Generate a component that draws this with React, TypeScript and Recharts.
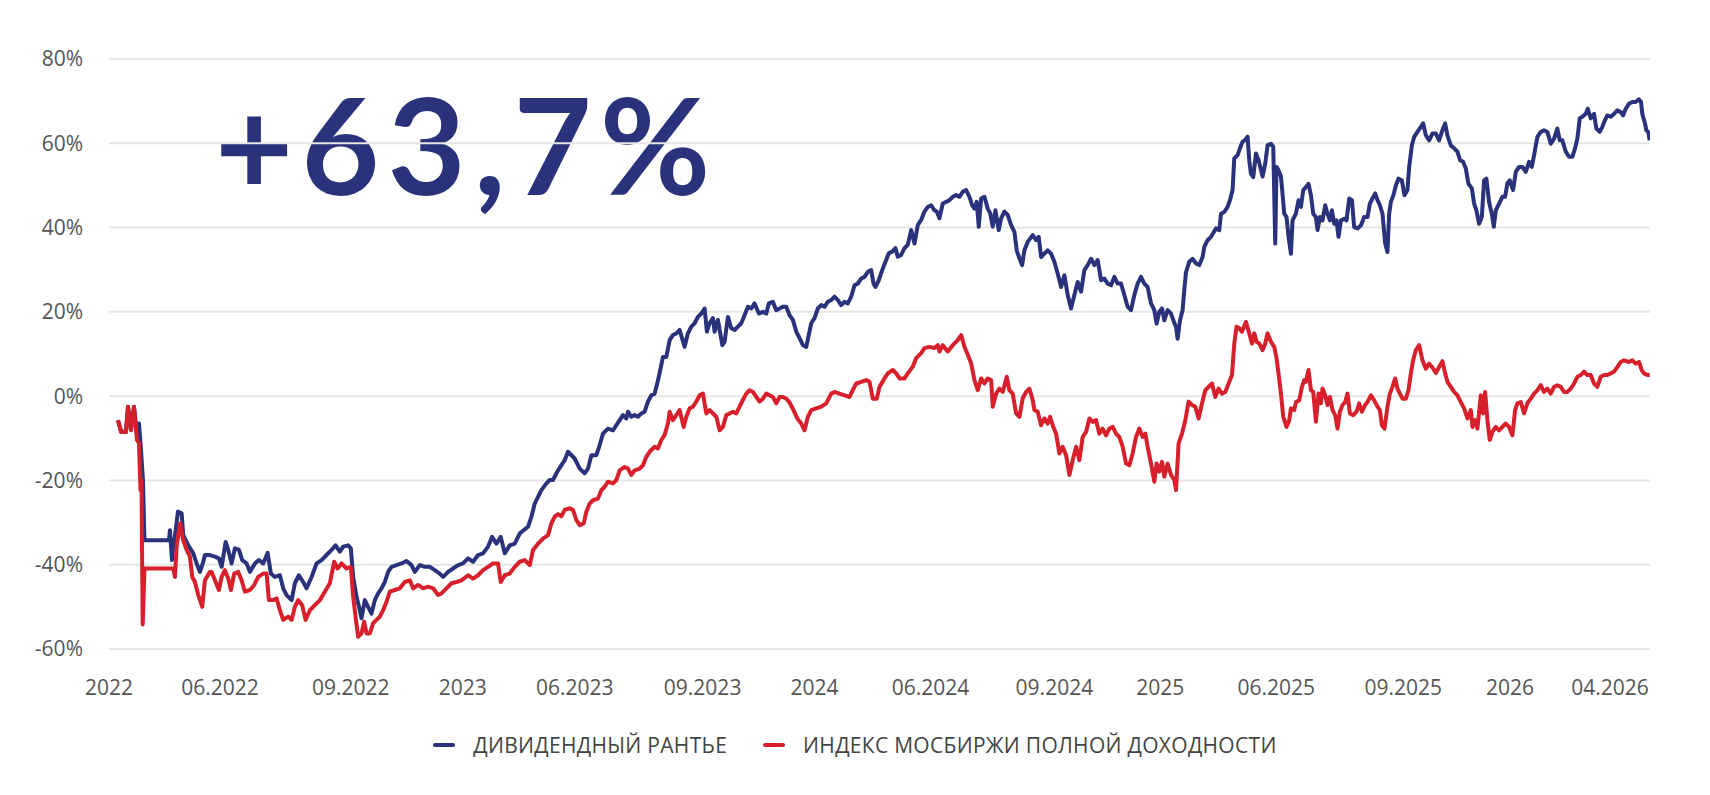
import React from 'react';
import { LineChart, Line, XAxis, YAxis, CartesianGrid, Legend } from 'recharts';

// x = trading-day index from the start of 2022, v = return in %
const TICK_DAYS = [0, 111, 242, 354, 466, 594, 706, 822, 946, 1052, 1168, 1295, 1402, 1502];
const TICK_LABELS = ['2022', '06.2022', '09.2022', '2023', '06.2023', '09.2023', '2024', '06.2024', '09.2024', '2025', '06.2025', '09.2025', '2026', '04.2026'];
const Y_TICKS = [-60, -40, -20, 0, 20, 40, 60, 80];

const SERIES_NAMES = ['ДИВИДЕНДНЫЙ РАНТЬЕ', 'ИНДЕКС МОСБИРЖИ ПОЛНОЙ ДОХОДНОСТИ'];
const HEADLINE = '+63,7%';

const BLUE_SERIES: [number, number][] = [
  [9, -5.7], [12, -8.3], [17, -8.5], [19, -2.5], [22, -7.5], [25, -2.5], [28, -9.0], [30, -6.5], [32, -12.8], [34, -20.0],
  [35.5, -34.2], [60, -34.2], [61, -31.8], [63, -38.9], [69, -27.4], [72.7, -27.8], [74.3, -33.0], [79.3, -35.4], [84.3, -37.3], [87.7, -39.7],
  [91, -41.7], [94.3, -39.3], [96, -37.7], [101, -37.7], [106, -38.1], [110, -38.5], [112.7, -40.5], [116.7, -34.6], [119.3, -36.5], [122.7, -39.7],
  [126, -36.1], [130, -36.5], [133.3, -38.9], [137.7, -39.7], [141, -41.7], [146, -39.7], [150, -38.9], [154.3, -39.7], [158.7, -37.2], [162, -42.1],
  [166, -42.9], [171, -42.5], [174.3, -45.6], [177.7, -47.2], [182.7, -48.4], [186, -44.4], [190, -42.5], [194.3, -44.1], [197.7, -45.6], [202.7, -42.9],
  [207.7, -39.7], [212.7, -38.9], [217.7, -37.7], [222.7, -36.5], [226.7, -35.4], [231, -36.9], [234.3, -35.7], [239.3, -35.4], [242, -36.1], [244.3, -42.9],
  [247.7, -47.6], [251, -50.8], [252.7, -52.7], [256, -48.4], [259.3, -50.0], [262.7, -51.6], [266, -48.4], [269.3, -46.8], [272.7, -45.6], [276, -44.1],
  [279.3, -41.7], [282.7, -40.5], [287.7, -40.1], [292.7, -39.7], [297.7, -39.1], [302.7, -40.1], [306, -41.7], [311, -40.1], [316, -40.5], [321, -40.5],
  [326, -41.3], [331, -42.1], [334.3, -42.9], [339.3, -41.7], [344.3, -40.9], [349.3, -40.1], [354.3, -39.7], [359.3, -38.5], [364.3, -39.3], [369.3, -37.7],
  [374.3, -37.3], [379.3, -35.7], [383.3, -33.4], [387.7, -35.0], [392, -33.4], [396, -37.3], [401, -35.4], [406, -35.0], [411, -32.6], [416, -31.6],
  [419.3, -31.0], [422.7, -28.6], [426, -25.5], [429.3, -23.9], [432.7, -22.3], [437.7, -20.7], [441, -19.9], [444.3, -19.9], [447.7, -18.3], [451, -17.0],
  [456, -15.2], [459.3, -13.2], [461, -13.6], [466, -14.8], [471, -17.2], [476, -18.3], [479.3, -17.2], [482.7, -14.0], [487.7, -14.0], [491, -11.6],
  [494.3, -8.9], [499.3, -7.7], [504.3, -8.1], [507.7, -6.9], [511, -5.7], [514.3, -4.5], [517.7, -5.3], [519.3, -3.7], [522.7, -4.9], [526, -4.5],
  [529.3, -4.9], [532.7, -4.1], [536, -3.7], [539.3, -1.3], [542.7, 0.2], [546, 0.6], [549, 3.4], [551, 5.5], [554.3, 9.3], [557.7, 9.3],
  [561, 13.3], [564.3, 14.5], [567.7, 14.9], [571, 15.7], [576, 11.7], [579.3, 14.9], [582.7, 16.5], [586, 17.3], [589.3, 18.8], [592.7, 19.6],
  [596, 20.8], [598.3, 15.3], [601, 17.3], [604.3, 18.5], [606, 15.3], [609.3, 18.1], [613.7, 12.1], [616, 12.9], [619.3, 18.8], [622.7, 16.1],
  [626, 15.7], [629.3, 16.5], [632.7, 17.3], [636, 19.2], [639.3, 21.2], [642.7, 20.8], [646, 22.0], [650.3, 19.6], [654.3, 20.0], [657.7, 19.6],
  [660.3, 22.0], [664.3, 22.4], [667.7, 20.4], [671, 20.8], [674.3, 21.2], [677.7, 21.2], [681, 19.2], [684.3, 18.1], [687.7, 15.3], [690.3, 14.1],
  [694.3, 12.1], [697.7, 11.7], [702.7, 17.3], [706, 18.5], [709.3, 20.8], [712.7, 21.6], [716, 21.2], [719.3, 22.4], [722.7, 22.8], [726, 23.6],
  [729.3, 22.8], [732.7, 21.6], [736, 22.4], [739.3, 22.0], [742.7, 23.6], [746, 26.3], [749.3, 26.7], [752.7, 27.9], [756, 28.3], [759.3, 29.5],
  [762.7, 29.9], [765, 26.7], [767, 25.9], [770.3, 27.5], [773.7, 29.9], [777, 31.9], [780.3, 33.9], [783.7, 34.3], [787, 35.1], [789.3, 33.1],
  [792.7, 33.5], [796, 35.1], [799.3, 35.9], [802.7, 39.4], [806, 36.2], [809.3, 40.6], [812.7, 41.8], [816, 43.8], [819.3, 44.9], [822.7, 45.3],
  [826, 44.1], [828.3, 43.8], [831, 42.2], [834.3, 45.7], [837.7, 46.1], [841, 46.5], [844.3, 47.3], [847.7, 47.7], [851, 47.3], [854.3, 48.5],
  [857.7, 48.9], [861, 47.3], [863.7, 45.3], [866, 44.5], [868.3, 46.1], [870.3, 40.2], [872.7, 46.9], [876, 47.3], [879.3, 44.5], [881.7, 43.4],
  [884.3, 40.2], [887, 44.1], [890.3, 39.4], [892.7, 42.2], [896, 43.8], [899.3, 43.0], [902.7, 40.6], [906, 39.0], [908.3, 34.6], [911, 32.7],
  [913.7, 31.1], [916, 34.6], [919.3, 36.6], [924.3, 38.2], [927.7, 37.0], [930.3, 37.8], [932.7, 33.0], [936, 33.8], [939.3, 34.6], [942.7, 33.8],
  [946, 31.9], [949.3, 29.1], [952.7, 25.9], [956, 28.7], [959.3, 24.0], [962.7, 20.8], [966, 24.0], [969.3, 27.1], [972.7, 24.8], [976, 29.9],
  [979.3, 31.1], [982.7, 32.6], [986, 31.1], [989.3, 32.3], [992.7, 27.5], [996, 27.9], [999.3, 26.7], [1002.7, 26.3], [1006, 28.3], [1009.3, 26.7],
  [1012.7, 26.7], [1016, 24.0], [1019.3, 21.2], [1022.7, 20.4], [1026, 24.0], [1029.3, 26.7], [1032.7, 28.3], [1036, 26.7], [1039.3, 25.9], [1042.7, 22.0],
  [1046, 20.4], [1048.3, 17.2], [1051, 20.0], [1053.7, 20.8], [1056, 18.0], [1059.3, 20.4], [1062.7, 19.6], [1065, 18.0], [1067.7, 16.4], [1069.3, 13.6],
  [1071.7, 18.0], [1074.3, 20.4], [1076, 25.2], [1077.7, 29.4], [1081, 31.9], [1084.3, 32.6], [1087.7, 31.5], [1091, 31.1], [1094.3, 33.0], [1096, 35.4],
  [1099.3, 37.0], [1102.7, 37.8], [1107.7, 39.8], [1111, 39.4], [1112.7, 43.3], [1116, 43.7], [1119.3, 44.9], [1121.7, 46.5], [1124.3, 48.9], [1126, 56.4],
  [1129.3, 57.2], [1131.7, 58.8], [1134.3, 60.4], [1137, 60.8], [1139.3, 61.6], [1141, 56.0], [1142.7, 52.8], [1145, 52.0], [1147.7, 57.6], [1150.3, 56.0],
  [1154.3, 52.1], [1157, 55.2], [1159.3, 59.5], [1162.7, 59.9], [1165, 59.2], [1167, 36.2], [1168.3, 54.4], [1170.3, 53.6], [1172.7, 52.1], [1173.7, 49.6],
  [1176, 43.3], [1178.3, 42.5], [1180.3, 37.8], [1182.7, 33.8], [1184.3, 41.7], [1187.7, 43.3], [1190.3, 46.5], [1192.7, 44.9], [1195, 48.9], [1197.7, 49.6],
  [1200.3, 50.4], [1202.7, 47.7], [1205, 43.3], [1207.7, 42.5], [1209.3, 39.4], [1211.7, 42.5], [1214.3, 41.7], [1217, 45.3], [1219.3, 43.3], [1221.7, 41.7],
  [1223.7, 44.1], [1226, 40.9], [1228.3, 41.7], [1230.3, 37.8], [1232.7, 41.7], [1236, 42.1], [1238.3, 41.7], [1241, 46.9], [1243.7, 46.5], [1246, 40.1],
  [1249.3, 39.8], [1252.7, 40.5], [1256, 42.5], [1259.3, 42.5], [1261.7, 45.7], [1264.3, 46.9], [1267, 48.1], [1269.3, 46.5], [1271.7, 45.3], [1274.3, 43.3],
  [1277, 36.2], [1279.3, 34.2], [1281, 43.3], [1282.7, 46.1], [1285.3, 47.7], [1287.7, 50.0], [1290.3, 51.6], [1293.7, 51.2], [1296.3, 47.7], [1299.3, 48.9],
  [1301, 54.4], [1303.7, 59.5], [1306, 61.5], [1309.3, 62.7], [1312.7, 63.9], [1315, 64.7], [1317.7, 61.9], [1321, 60.7], [1324.3, 62.3], [1327.7, 62.3],
  [1331, 60.7], [1334.3, 63.1], [1337, 64.7], [1339.3, 61.9], [1342.7, 59.5], [1346, 58.8], [1349.3, 58.0], [1352, 56.0], [1355, 55.6], [1357.7, 54.0],
  [1360.3, 50.4], [1363.7, 49.3], [1366, 45.7], [1368.3, 44.1], [1371, 40.9], [1373.7, 42.5], [1376, 51.2], [1378.3, 51.6], [1381, 46.0], [1383.7, 43.3],
  [1385.7, 40.2], [1387.7, 44.1], [1391, 45.7], [1394.3, 47.3], [1397, 47.3], [1399.3, 50.5], [1401.7, 51.2], [1405, 48.9], [1407.7, 53.2], [1411, 54.4],
  [1414.3, 54.4], [1417.7, 53.2], [1421, 55.6], [1423.7, 54.4], [1426, 57.2], [1429.3, 61.5], [1432.7, 62.7], [1436, 63.1], [1439.3, 62.7], [1442.7, 59.9],
  [1446, 61.1], [1449.3, 63.5], [1451.7, 60.7], [1454.3, 60.7], [1457.7, 58.0], [1461, 56.8], [1464.3, 56.8], [1467, 58.8], [1469.3, 61.1], [1471.7, 65.9],
  [1474.3, 66.3], [1477.7, 67.0], [1479.7, 68.2], [1482.7, 65.9], [1486, 67.0], [1488.3, 63.5], [1491.7, 62.7], [1494.3, 63.9], [1497, 65.5], [1499.3, 66.6],
  [1502.7, 66.3], [1506, 67.0], [1509.3, 67.8], [1512.7, 67.4], [1515, 66.6], [1517.7, 68.2], [1521, 69.4], [1524.3, 69.8], [1527.7, 69.8], [1531, 70.4],
  [1533, 69.8], [1534.3, 67.0], [1537, 64.7], [1538.3, 63.1], [1540.3, 62.7], [1541.7, 60.7],
];

const RED_SERIES: [number, number][] = [
  [9, -5.7], [12, -8.5], [17, -8.5], [19, -2.5], [22, -8.1], [25, -2.5], [28, -10.4], [30, -11.2], [31.5, -22.3], [32.5, -19.9],
  [33.7, -54.2], [35.5, -40.9], [64.3, -40.9], [66, -42.9], [67.7, -35.7], [71, -30.2], [74.3, -34.2], [77.7, -36.5], [81, -38.1], [83.3, -42.9],
  [86, -44.1], [89.3, -47.2], [93.3, -50.0], [96, -43.7], [101, -41.7], [102.7, -41.7], [106, -43.7], [110, -46.0], [112.7, -42.9], [116, -41.3],
  [119.3, -43.3], [122, -46.0], [125.3, -42.1], [129.3, -41.7], [132.7, -43.7], [136, -46.4], [141, -46.0], [145.3, -44.8], [149.3, -42.9], [154.3, -42.1],
  [157.7, -42.1], [160, -48.4], [164.3, -48.4], [167.7, -48.0], [171, -50.8], [174.3, -53.1], [179.3, -52.3], [182.7, -53.1], [186, -50.0], [189.3, -48.4],
  [193.3, -49.6], [196.7, -53.1], [201, -50.8], [206, -49.6], [211, -48.4], [216, -46.4], [221, -44.4], [225.3, -39.3], [228.7, -40.9], [232.7, -39.7],
  [237.7, -40.9], [242, -40.5], [244.3, -47.6], [246.7, -52.3], [249.3, -57.1], [252.7, -56.3], [255.3, -53.5], [257.7, -56.3], [261, -56.3], [264.3, -53.9],
  [267.7, -53.1], [271, -52.3], [274.3, -50.8], [277.7, -48.8], [281, -46.4], [286, -46.0], [291, -45.6], [296, -44.1], [301, -43.7], [304.3, -45.6],
  [309.3, -44.8], [314.3, -45.6], [319.3, -45.2], [324.3, -45.6], [329.3, -47.2], [332.7, -46.8], [337.7, -45.6], [342.7, -44.4], [347.7, -44.1], [352.7, -43.7],
  [359.3, -42.5], [364.3, -43.3], [369.3, -42.5], [374.3, -41.3], [379.3, -40.5], [384.3, -39.7], [389.3, -39.7], [392, -44.1], [396, -42.5], [401, -42.1],
  [406, -40.5], [411, -39.3], [416, -38.9], [421, -40.1], [424.3, -36.5], [429.3, -35.0], [434.3, -33.8], [439.3, -33.0], [442.7, -30.2], [446, -28.6],
  [449.3, -28.0], [452.7, -28.5], [456, -27.0], [461, -26.6], [464.3, -27.0], [467.7, -29.4], [471, -30.6], [475, -30.2], [477.7, -27.4], [481, -25.5],
  [484.3, -24.7], [489.3, -24.3], [492.7, -22.3], [496, -21.5], [499.3, -20.3], [504.3, -20.7], [507.7, -19.9], [511, -17.6], [516, -16.8], [519.3, -17.2],
  [522.7, -18.7], [526, -17.6], [531, -17.2], [534.3, -16.4], [537.7, -14.4], [541, -13.2], [546, -12.0], [549.3, -12.4], [552.7, -10.4], [556, -9.2],
  [559.3, -6.5], [561, -3.7], [564.3, -5.7], [567.7, -4.5], [571, -3.3], [575, -7.3], [577.7, -4.9], [581, -2.9], [584.3, -2.5], [587.7, -1.3],
  [591, 0.2], [594.3, 0.6], [597.7, -4.1], [601, -3.3], [604.3, -4.1], [607.7, -4.9], [611, -8.1], [614.3, -7.3], [617.7, -4.5], [621, -4.1],
  [624.3, -3.7], [627.7, -4.1], [631, -2.5], [634.3, -0.9], [637.7, 0.6], [641, 1.4], [644.3, 1.0], [647.7, -0.2], [651, -1.3], [654.3, -0.6],
  [657.7, 0.6], [661, 0.2], [664.3, -0.2], [667.7, -1.7], [671, -0.2], [674.3, -0.2], [677.7, -0.6], [681, -1.5], [684.3, -3.0], [689.3, -5.5],
  [692.7, -6.5], [696, -8.1], [699.3, -4.9], [702.7, -3.3], [707.7, -2.9], [712.7, -2.5], [717.7, -1.7], [722.7, 0.6], [726, 1.0], [731, 0.6],
  [736, 0.2], [741, -0.2], [744.3, 1.4], [747.7, 3.0], [752.7, 3.4], [757.7, 3.8], [761, 3.4], [764.3, -0.6], [768.3, -0.6], [771, 2.2],
  [776, 4.2], [779.3, 5.4], [784.3, 6.2], [787.7, 5.4], [791, 4.2], [796, 4.2], [799.3, 5.4], [804.3, 7.0], [807.7, 9.0], [812.7, 10.2],
  [816, 11.4], [821, 11.7], [826, 11.4], [829.3, 12.1], [831, 10.6], [834.3, 12.1], [839.3, 10.6], [844.3, 12.1], [849.3, 13.3], [852.7, 14.5],
  [856, 11.7], [859.3, 9.8], [862.7, 7.8], [866, 3.8], [869.3, 1.4], [872.7, 4.2], [876, 3.0], [879.3, 4.2], [882.7, 3.8], [884.3, -2.5],
  [887.7, 0.6], [891, 1.8], [894.3, 1.0], [898.3, 4.6], [901, 1.4], [904.3, 0.6], [907.7, -4.1], [911, -4.9], [914.3, -0.5], [917.7, 1.0],
  [921, 1.8], [924.3, -0.9], [926, -3.3], [929.3, -3.7], [932.7, -6.9], [936, -5.3], [939.3, -6.5], [941.7, -4.9], [944.3, -6.9], [947.7, -8.9],
  [951, -13.6], [954.3, -12.0], [957.7, -14.0], [961, -18.7], [964.3, -15.2], [967.7, -12.0], [971, -15.2], [974.3, -9.7], [977.7, -8.5], [981, -5.3],
  [984.3, -6.1], [987.7, -5.7], [991, -8.9], [994.3, -7.7], [997.7, -9.3], [1001, -7.7], [1004.3, -7.3], [1007.7, -8.9], [1011, -9.7], [1014.3, -12.0],
  [1017.7, -16.0], [1021, -16.4], [1024.3, -13.6], [1027.7, -9.7], [1031, -7.7], [1034.3, -9.7], [1037, -8.9], [1039.3, -12.0], [1042.7, -16.0], [1046, -20.3],
  [1048.3, -16.0], [1051, -17.9], [1053.7, -15.6], [1056, -19.1], [1059.3, -16.0], [1062.7, -18.7], [1066, -19.9], [1067.7, -22.3], [1070.3, -11.2], [1073.7, -8.9],
  [1077, -5.7], [1080.3, -1.3], [1083.7, -2.1], [1087, -2.5], [1090.3, -5.3], [1093.7, -1.7], [1097, 1.4], [1100.3, 2.2], [1103.7, 3.0], [1107, -0.2],
  [1110.3, 1.8], [1113.7, 0.6], [1117, 1.0], [1120.3, 3.0], [1123.7, 5.0], [1126, 12.5], [1128.3, 16.5], [1131, 16.1], [1133.7, 15.3], [1137.7, 17.6],
  [1141, 14.9], [1143.7, 12.5], [1146, 14.9], [1148.3, 12.9], [1151, 12.5], [1154.3, 10.9], [1157, 12.5], [1159.3, 14.9], [1162.7, 12.9], [1166, 11.7],
  [1168.3, 9.0], [1170.3, 5.3], [1172.7, 0.6], [1175, -4.9], [1178.3, -7.3], [1181, -5.7], [1182.7, -2.9], [1186, -3.3], [1187.7, -1.4], [1191, -1.0],
  [1193.7, 2.2], [1196, 3.8], [1197.7, 3.4], [1200.3, 6.2], [1202.7, 1.4], [1205, 1.0], [1207.7, -6.1], [1210.3, 0.6], [1212.7, -1.7], [1214.3, 1.8],
  [1217, 0.2], [1219.3, -2.1], [1221.7, -0.2], [1224.3, -3.3], [1227, -4.5], [1229.3, -7.7], [1231.7, -3.7], [1234.3, -2.1], [1237, -1.4], [1239.3, 0.6],
  [1241.7, -4.1], [1245, -4.5], [1248.3, -3.7], [1251, -1.7], [1253.7, -3.7], [1257, -2.1], [1259.3, -1.4], [1262.7, 0.2], [1266, -1.0], [1269.3, -2.5],
  [1271.7, -3.3], [1273.7, -6.9], [1276.3, -7.7], [1279.3, -2.5], [1281.7, 0.6], [1284.3, 2.2], [1287, 4.2], [1289.3, 1.8], [1291.7, 0.6], [1294.3, -0.6],
  [1297.7, -0.6], [1300.3, 1.4], [1302.7, 5.4], [1305, 8.5], [1307.7, 10.9], [1311, 12.1], [1314.3, 8.5], [1317.7, 6.5], [1321, 7.7], [1324.3, 6.8],
  [1327.7, 5.5], [1331, 6.9], [1334.3, 8.3], [1337, 5.4], [1339.3, 3.4], [1342.7, 2.2], [1346, 1.0], [1349.3, 0.2], [1352.7, -1.4], [1356, -2.9],
  [1359.3, -5.3], [1362.7, -3.3], [1364.3, -7.3], [1367, -5.7], [1369.3, -7.7], [1372.7, 0.2], [1375, -4.1], [1377, 1.0], [1379.3, -5.7], [1381.7, -10.4],
  [1384.3, -8.5], [1387.7, -7.3], [1391, -8.1], [1394.3, -7.3], [1397.7, -6.5], [1401, -7.3], [1404.3, -9.3], [1407, -3.3], [1409.3, -1.7], [1412.7, -1.4],
  [1416, -4.1], [1419.3, -1.7], [1422.7, -0.6], [1426, 0.6], [1429.3, 1.4], [1432.7, 2.6], [1436, 1.0], [1439.3, 1.8], [1442.7, 0.6], [1446, 2.2],
  [1449.3, 2.6], [1452.7, 2.2], [1456, 1.0], [1459.3, 1.0], [1462.7, 1.8], [1466, 3.0], [1469.3, 4.6], [1472.7, 5.0], [1476, 5.8], [1479.3, 5.0],
  [1482.7, 5.0], [1486, 3.0], [1489.3, 2.2], [1492.7, 4.6], [1496, 5.0], [1499.3, 5.0], [1502.7, 5.4], [1506, 5.8], [1509.3, 6.9], [1512.7, 8.1],
  [1516, 8.5], [1521, 8.1], [1524.3, 8.5], [1527.7, 7.7], [1531, 8.1], [1533.7, 6.2], [1536, 5.4], [1539.3, 5.0], [1541.7, 5.0],
];

const BLUE = '#29327a';
const RED = '#d7202b';

const blueData = BLUE_SERIES.map(([t, v]) => ({ t, v }));
const redData = RED_SERIES.map(([t, v]) => ({ t, v }));

const tickLabel = (value: number) => {
  const i = TICK_DAYS.indexOf(value);
  return i >= 0 ? TICK_LABELS[i] : '';
};

const renderLegend = (props: any) => {
  const payload = props.payload || [];
  return (
    <div
      style={{
        display: 'flex',
        justifyContent: 'center',
        alignItems: 'center',
        height: 40,
        width: '100%',
        fontFamily: '"Open Sans", sans-serif',
        fontSize: 21,
        letterSpacing: 0.3,
        color: '#444',
      }}
    >
      {payload.map((entry: any, i: number) => (
        <div key={i} style={{ display: 'flex', alignItems: 'center', marginLeft: i === 0 ? 0 : 36 }}>
          <div style={{ width: 22, height: 4, borderRadius: 2, background: entry.color, marginRight: 18 }} />
          <span>{entry.value}</span>
        </div>
      ))}
    </div>
  );
};

export default function App() {
  return (
    <div style={{ position: 'absolute', left: 0, top: 0, width: 1710, height: 795, background: '#fff' }}>
      <div
        style={{
          position: 'absolute',
          left: 215,
          top: 76,
          fontFamily: 'Lato, "Open Sans", sans-serif',
          fontWeight: 700,
          fontSize: 135,
          lineHeight: '135px',
          letterSpacing: 8,
          color: BLUE,
          whiteSpace: 'nowrap',
        }}
      >
        {HEADLINE}
      </div>
      <LineChart width={1710} height={795} margin={{ top: 59, right: 60, bottom: 30, left: 0 }}>
        <CartesianGrid vertical={false} stroke="#e6e6e6" strokeWidth={2} />
        <XAxis
          dataKey="t"
          type="number"
          domain={[0, 1542]}
          ticks={TICK_DAYS}
          interval={0}
          tickFormatter={tickLabel}
          axisLine={false}
          tickLine={false}
          tickSize={0}
          tickMargin={31}
          height={76}
          allowDataOverflow
          tick={{ fill: '#555', fontSize: 21, fontFamily: '"Open Sans", sans-serif' }}
        />
        <YAxis
          type="number"
          domain={[-60, 80]}
          ticks={Y_TICKS}
          interval={0}
          tickFormatter={(v: number) => `${v}%`}
          axisLine={false}
          tickLine={false}
          tickSize={0}
          tickMargin={26}
          width={109}
          tick={{ fill: '#555', fontSize: 21, fontFamily: '"Open Sans", sans-serif' }}
        />
        <Legend verticalAlign="bottom" align="center" height={40} wrapperStyle={{ left: 0, width: 1710 }} content={renderLegend} />
        <Line
          data={blueData}
          dataKey="v"
          name={SERIES_NAMES[0]}
          type="linear"
          stroke={BLUE}
          strokeWidth={4}
          strokeLinejoin="round"
          dot={false}
          activeDot={false}
          isAnimationActive={false}
        />
        <Line
          data={redData}
          dataKey="v"
          name={SERIES_NAMES[1]}
          type="linear"
          stroke={RED}
          strokeWidth={4}
          strokeLinejoin="round"
          dot={false}
          activeDot={false}
          isAnimationActive={false}
        />
      </LineChart>
    </div>
  );
}
